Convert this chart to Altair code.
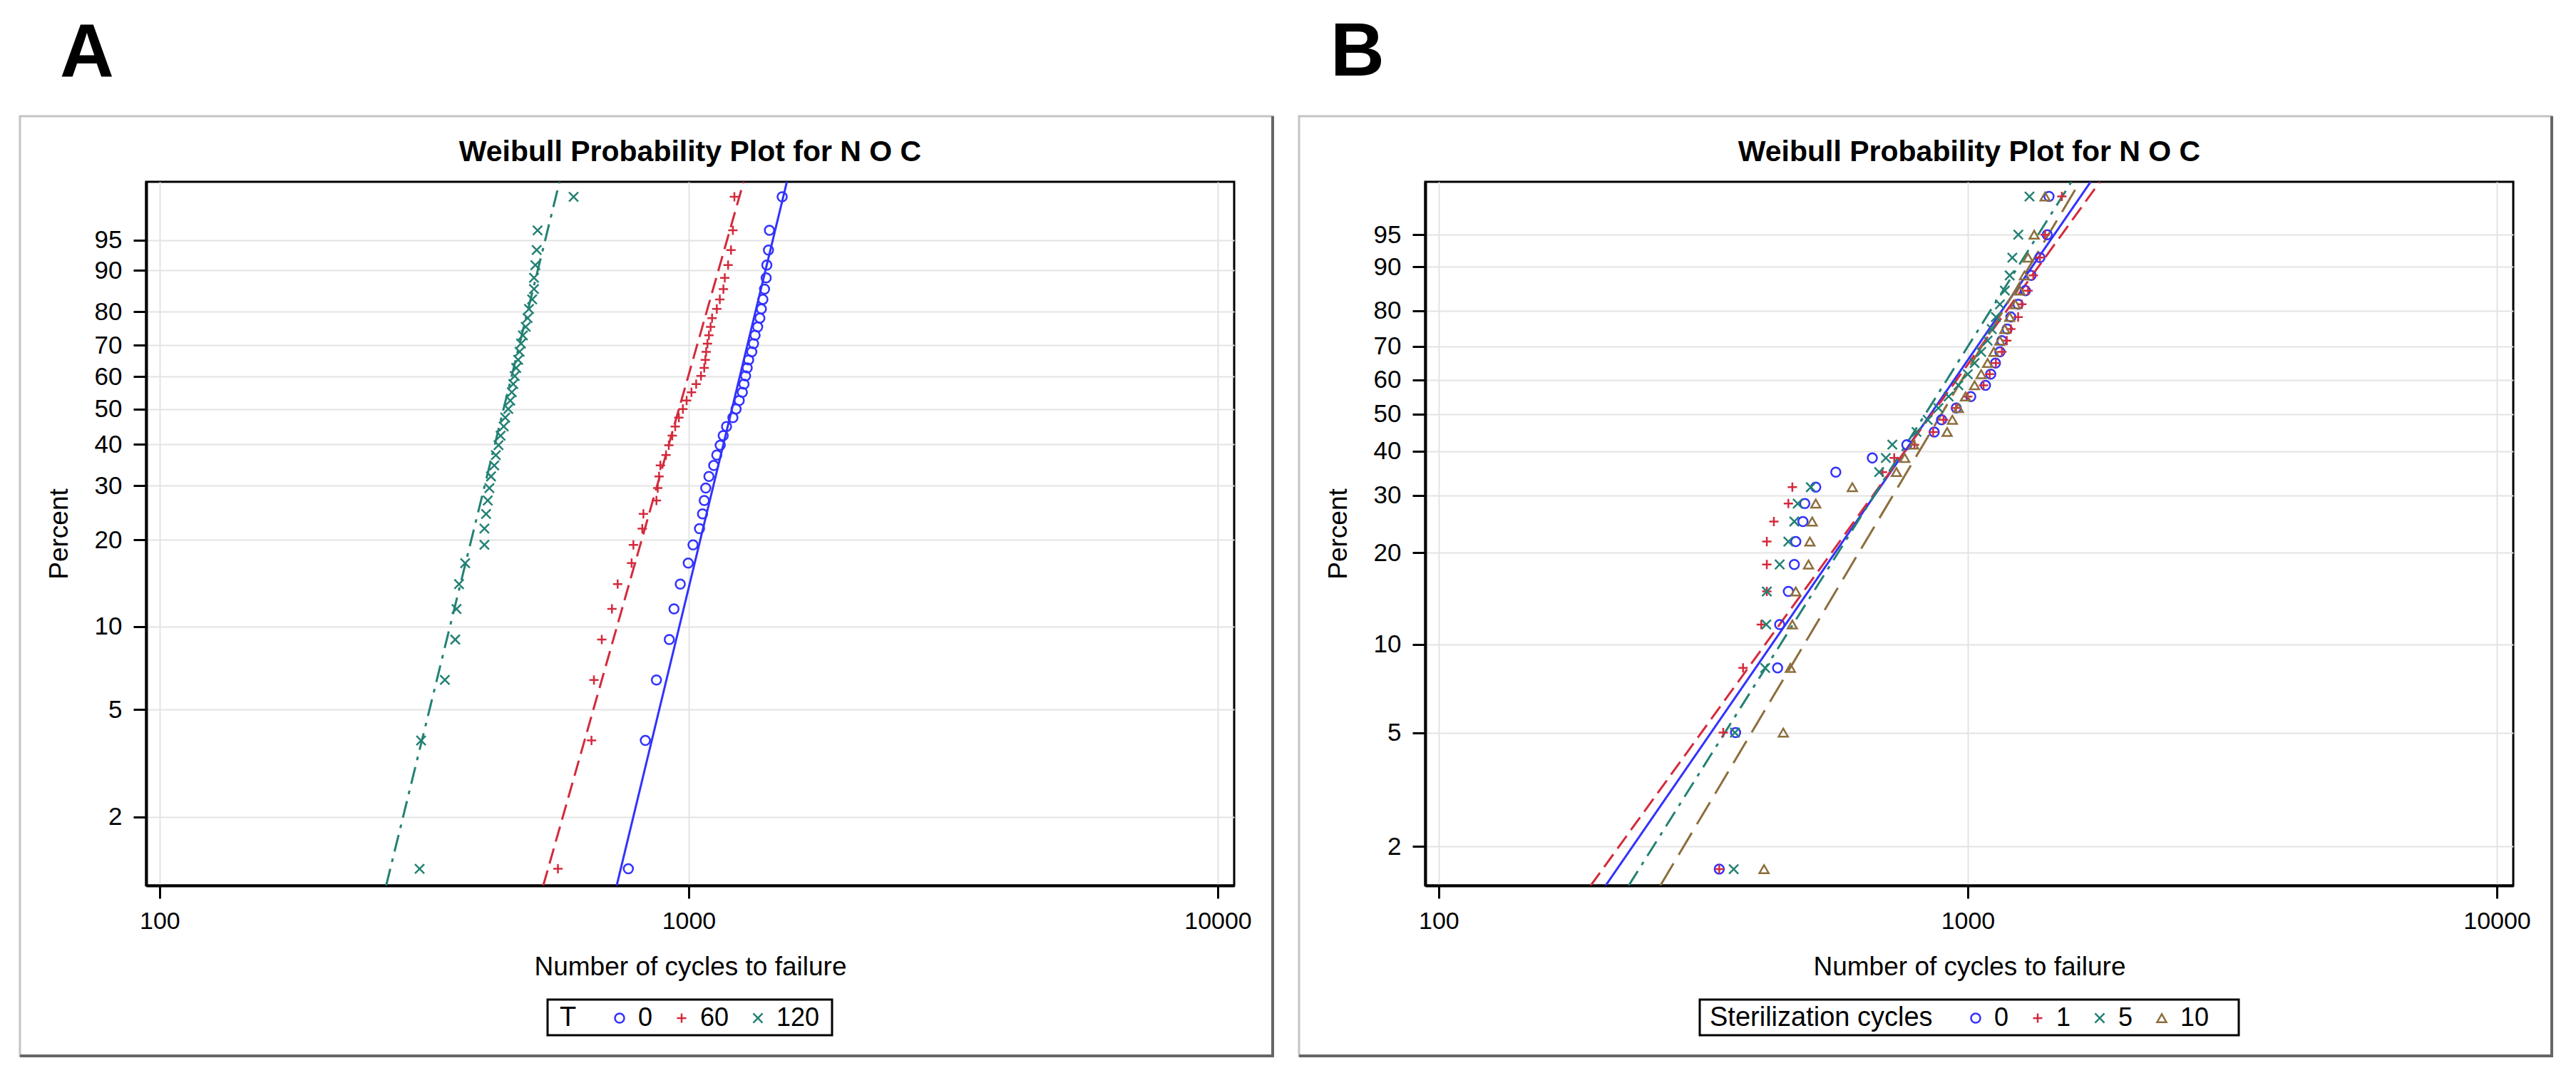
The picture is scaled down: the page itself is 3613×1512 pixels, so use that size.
import math
import altair as alt
import pandas as pd

FONT = "Liberation Sans"

# ---------------- shared axis settings ----------------
X_TICKS = [100, 1000, 10000]
X_DOMAIN = [94.3, 10740]
Y_TICKS = [2, 5, 10, 20, 30, 40, 50, 60, 70, 80, 90, 95]

# ---------------- Panel A : cycles to failure by T ----------------
A_GROUPS = ["0", "60", "120"]
A_T0 = [769, 828, 869, 919, 938, 964, 998, 1019, 1048, 1062, 1070, 1077, 1092,
        1115, 1130, 1147, 1162, 1179, 1212, 1229, 1246, 1263, 1272, 1281, 1290,
        1298, 1316, 1326, 1335, 1350, 1363, 1372, 1381, 1391, 1401, 1405, 1415,
        1421, 1502]
A_T60 = [566, 655, 662, 685, 716, 734, 780, 786, 817, 821, 869, 874, 879, 884,
         906, 917, 931, 943, 958, 975, 991, 1012, 1033, 1055, 1070, 1075, 1079,
         1085, 1092, 1100, 1107, 1130, 1145, 1163, 1170, 1187, 1202, 1212, 1220]
A_T120 = [310, 312, 346, 362, 364, 368, 378, 411, 411, 414, 417, 420, 423, 429,
          432, 437, 441, 447, 450, 456, 460, 463, 466, 469, 472, 476, 479, 482,
          486, 492, 496, 499, 506, 510, 510, 513, 516, 518, 606]
A_FIT_LO = [731, 531, 268]      # fitted Weibull line, cycles at lower percent edge
A_FIT_HI = [1533, 1270, 570]    # fitted Weibull line, cycles at upper percent edge
A_PCT_DOMAIN = [1.11, 99.30]

# ---------------- Panel B : cycles to failure by sterilization cycles ----------------
B_GROUPS = ["0", "1", "5", "10"]
B_S0 = [339, 364, 437, 441, 458, 470, 473, 488, 492, 516, 563, 660, 767, 864, 892,
        951, 1013, 1080, 1105, 1128, 1150, 1160, 1187, 1206, 1245, 1285, 1317, 1369,
        1413, 1424]
B_S1 = [339, 345, 376, 407, 417, 417, 417, 430, 458, 466, 690, 726, 793, 860, 900,
        950, 1000, 1071, 1100, 1130, 1160, 1185, 1206, 1245, 1265, 1300, 1330, 1369,
        1400, 1506]
B_S5 = [361, 363, 414, 416, 417, 441, 458, 470, 477, 505, 680, 700, 720, 800, 840,
        880, 920, 960, 1000, 1030, 1060, 1090, 1110, 1130, 1150, 1175, 1200, 1214,
        1246, 1308]
B_S10 = [412, 448, 462, 466, 473, 500, 503, 508, 516, 605, 733, 760, 790, 914, 935,
         960, 990, 1030, 1060, 1090, 1120, 1150, 1175, 1200, 1230, 1255, 1280, 1300,
         1335, 1400]
B_FIT_LO = [206.8, 193.8, 228.6, 262.4]
B_FIT_HI = [1707, 1777, 1570, 1629]
B_PCT_DOMAIN = [1.46, 99.01]

COLORS = ["#3232ff", "#d42a3c", "#238174", "#8c6e3c"]
SHAPES = ["circle", "M-1,0L1,0M0,-1L0,1", "M-1,-1L1,1M-1,1L1,-1", "triangle-up"]
DASHES = [[1, 0], [22, 10], [24, 10, 5, 10], [36, 14]]

TITLE = "Weibull Probability Plot for N O C"
W, H = 1526, 987


def wb(p):
    return math.log(-math.log(1 - p / 100.0))


def panel(letter, groups, series, fit_lo, fit_hi, pct_dom, legend_title,
          legend_x, box, letter_x, letter_y):
    n = len(groups)
    pts = pd.DataFrame({
        "grp": [g for g, s in zip(groups, series) for _ in s],
        "cycles": [c for s in series for c in s],
    })
    fit = pd.DataFrame({
        "grp": [g for g in groups for _ in range(2)],
        "cycles": [v for lo, hi in zip(fit_lo, fit_hi) for v in (lo, hi)],
        "pct": [p for _ in groups for p in pct_dom],
    })
    ydom = [wb(pct_dom[0]), wb(pct_dom[1])]
    xenc = alt.X("cycles:Q",
                 scale=alt.Scale(type="log", domain=X_DOMAIN, nice=False),
                 axis=alt.Axis(values=X_TICKS, format="d",
                               title="Number of cycles to failure"))
    yenc = alt.Y("wy:Q",
                 scale=alt.Scale(domain=ydom, nice=False, zero=False),
                 axis=alt.Axis(values=[wb(t) for t in Y_TICKS],
                               labelExpr="round(100*(1-exp(-exp(datum.value))))",
                               title="Percent"))
    cols, shp, dsh = COLORS[:n], SHAPES[:n], DASHES[:n]
    leg = alt.Legend(orient="none", legendX=legend_x, legendY=1155,
                     direction="horizontal", title=legend_title,
                     titleOrient="left", titleFont=FONT, titleFontSize=38,
                     titleFontWeight="normal", titleColor="black", titleLimit=900,
                     titlePadding=42, labelFont=FONT, labelFontSize=36,
                     labelColor="black", labelOffset=8, columnPadding=22,
                     symbolSize=170, symbolStrokeWidth=2.5, padding=0)

    one = pd.DataFrame({"t": [letter]})
    ttl = pd.DataFrame({"t": [TITLE]})

    frame = alt.Chart(one).mark_rect(filled=False, stroke="#c4c4c4", strokeWidth=3).encode(
        x=alt.value(-177), x2=alt.value(1580), y=alt.value(-92), y2=alt.value(1226))
    shadow_r = alt.Chart(one).mark_rule(color="#666666", strokeWidth=4).encode(
        x=alt.value(1580), y=alt.value(-92), y2=alt.value(1228))
    shadow_b = alt.Chart(one).mark_rule(color="#666666", strokeWidth=4).encode(
        x=alt.value(-177), x2=alt.value(1582), y=alt.value(1226))
    letter_t = alt.Chart(one).mark_text(
        font=FONT, fontSize=105, fontWeight="bold", align="left", baseline="top",
        color="black").encode(text="t:N", x=alt.value(letter_x), y=alt.value(letter_y))
    title_t = alt.Chart(ttl).mark_text(
        font=FONT, fontSize=41, fontWeight="bold", align="center",
        baseline="alphabetic", color="black").encode(
        text="t:N", x=alt.value(W / 2), y=alt.value(-29))
    legbox = alt.Chart(one).mark_rect(filled=False, stroke="black", strokeWidth=3).encode(
        x=alt.value(box[0]), x2=alt.value(box[1]), y=alt.value(1147), y2=alt.value(1197))

    line_layers = []
    for i, g in enumerate(groups):
        line_layers.append(
            alt.Chart(fit).transform_filter(alt.datum.grp == g).transform_calculate(
                wy="log(-log(1 - datum.pct/100))"
            ).mark_line(color=cols[i], strokeDash=dsh[i], strokeWidth=3, clip=True).encode(
                x=xenc, y=yenc)
        )
    points = alt.Chart(pts).transform_window(
        rank="row_number()", groupby=["grp"],
        sort=[alt.SortField("cycles", order="ascending")]
    ).transform_joinaggregate(
        n="count()", groupby=["grp"]
    ).transform_calculate(
        wy="log(-log(1 - (datum.rank - 0.5)/datum.n))"
    ).mark_point(filled=False, strokeWidth=2.5, opacity=1, size=170).encode(
        x=xenc, y=yenc,
        color=alt.Color("grp:N", scale=alt.Scale(domain=groups, range=cols), legend=leg),
        shape=alt.Shape("grp:N", scale=alt.Scale(domain=groups, range=shp), legend=leg),
    )
    return alt.layer(frame, shadow_r, shadow_b, letter_t, title_t, legbox,
                     *line_layers, points).properties(width=W, height=H)


pA = panel("A", A_GROUPS, [A_T0, A_T60, A_T120], A_FIT_LO, A_FIT_HI,
           A_PCT_DOMAIN, "T", 580, (563, 962), -121, -230)
pB = panel("B", B_GROUPS, [B_S0, B_S1, B_S5, B_S10], B_FIT_LO, B_FIT_HI,
           B_PCT_DOMAIN, "Sterilization cycles", 399, (385, 1141), -133, -232)

chart = alt.hconcat(pA, pB, spacing=27).resolve_scale(
    x="independent", y="independent", color="independent", shape="independent"
).resolve_legend(color="independent", shape="independent").properties(
    padding={"left": 16, "top": 12, "right": 5, "bottom": 5}
).configure_axis(
    domainColor="black", domainWidth=4, tickColor="black", tickWidth=3,
    tickSize=18, labelFont=FONT, labelColor="black", titleFont=FONT,
    titleFontSize=37, titleFontWeight="normal", titleColor="black",
    gridColor="#e3e3e3", gridWidth=2
).configure_axisY(
    labelFontSize=35, labelPadding=16, titlePadding=30
).configure_axisX(
    labelFontSize=34, labelPadding=15, titlePadding=29
).configure_view(stroke="black", strokeWidth=3)

chart.save("out.html", embed_options={"renderer": "svg", "actions": False})
